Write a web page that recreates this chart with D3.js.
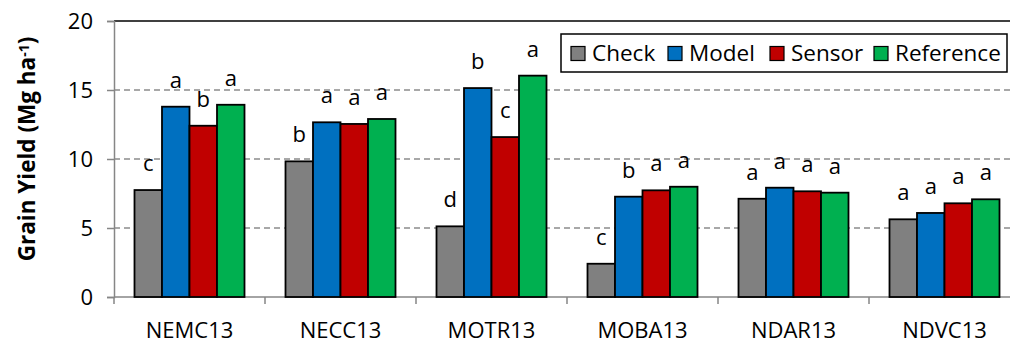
<!DOCTYPE html>
<html>
<head>
<meta charset="utf-8">
<script src="https://cdn.jsdelivr.net/npm/d3@7"></script>
<style>
  body { margin: 0; background: #fff; }
  text { font-family: "Open Sans", sans-serif; fill: #000; }
</style>
</head>
<body>
<svg id="chart" width="1010" height="343"></svg>
<script>
const sites = ['NEMC13', 'NECC13', 'MOTR13', 'MOBA13', 'NDAR13', 'NDVC13'];
const series = ['Check', 'Model', 'Sensor', 'Reference'];
const check = [7.75, 9.83, 5.12, 2.41, 7.12, 5.63];
const model = [13.79, 12.66, 15.14, 7.27, 7.92, 6.09];
const sensor = [12.41, 12.54, 11.59, 7.73, 7.66, 6.79];
const reference = [13.93, 12.9, 16.04, 7.99, 7.56, 7.08];
const checkLetters = ['c', 'b', 'd', 'c', 'a', 'a'];
const modelLetters = ['a', 'a', 'b', 'b', 'a', 'a'];
const sensorLetters = ['b', 'a', 'c', 'a', 'a', 'a'];
const referenceLetters = ['a', 'a', 'a', 'a', 'a', 'a'];
const yTicks = [0, 5, 10, 15, 20];

const colors = { 'Check': '#808080', 'Model': '#0070C0', 'Sensor': '#C00000', 'Reference': '#00B050' };

const svg = d3.select('#chart');

let margins = { 'left': 114, 'top': 21, 'bottom': 46, 'right': -10 };
let chartWidth = 906;
let chartHeight = svg.attr('height') - margins.top - margins.bottom;

// build rows from the arrays
const values = { 'Check': check, 'Model': model, 'Sensor': sensor, 'Reference': reference };
const letters = { 'Check': checkLetters, 'Model': modelLetters, 'Sensor': sensorLetters, 'Reference': referenceLetters };
const rows = [];
sites.forEach((s, i) => {
  series.forEach(k => rows.push({ site: s, key: k, value: values[k][i], letter: letters[k][i] }));
});

const x0 = d3.scaleBand().domain(sites).range([0, chartWidth]);
const x1 = d3.scaleBand().domain(series).range([20.5, 130.5]);
const y = d3.scaleLinear().domain([0, 20]).range([chartHeight, 0]);

let chartArea = svg.append('g').attr('transform', `translate(${margins.left},${margins.top})`);

// gridlines
chartArea.append('g')
  .selectAll('line')
  .data(yTicks.filter(t => t > 0 && t < 20))
  .join('line')
  .attr('x1', 0).attr('x2', chartWidth)
  .attr('y1', d => y(d)).attr('y2', d => y(d))
  .style('stroke', '#8c8c8c')
  .style('stroke-width', 1.5)
  .style('stroke-dasharray', '6,4');

// top line at 20
chartArea.append('line')
  .attr('x1', 0).attr('x2', chartWidth)
  .attr('y1', y(20)).attr('y2', y(20))
  .style('stroke', '#000')
  .style('stroke-width', 1.5);

// y axis
let leftAxis = d3.axisLeft(y).tickValues(yTicks).tickSize(7).tickPadding(14);
let yAxisG = chartArea.append('g').call(leftAxis);
yAxisG.select('.domain').style('stroke', '#868686').style('stroke-width', 1.5);
yAxisG.selectAll('.tick line').style('stroke', '#868686').style('stroke-width', 1.5);
yAxisG.selectAll('.tick text')
  .style('font-family', '"Open Sans", sans-serif')
  .style('font-size', '22px')
  .attr('dy', '0.35em');

// x axis: baseline with ticks between categories
chartArea.append('line')
  .attr('x1', 0).attr('x2', chartWidth)
  .attr('y1', y(0)).attr('y2', y(0))
  .style('stroke', '#868686')
  .style('stroke-width', 1.5);
chartArea.append('g')
  .selectAll('line')
  .data(sites)
  .join('line')
  .attr('x1', d => x0(d)).attr('x2', d => x0(d))
  .attr('y1', y(0)).attr('y2', y(0) + 7)
  .style('stroke', '#868686')
  .style('stroke-width', 1.5);
chartArea.append('g')
  .selectAll('text')
  .data(sites)
  .join('text')
  .attr('x', d => x0(d) + x0.bandwidth() / 2)
  .attr('y', y(0) + 41)
  .attr('text-anchor', 'middle')
  .style('font-size', '22px')
  .text(d => d);

// bars
chartArea.append('g')
  .selectAll('rect')
  .data(rows)
  .join('rect')
  .attr('x', d => x0(d.site) + x1(d.key))
  .attr('y', d => y(d.value))
  .attr('width', x1.bandwidth())
  .attr('height', d => y(0) - y(d.value))
  .style('fill', d => colors[d.key])
  .style('stroke', '#000')
  .style('stroke-width', 1.8);

// significance letters
chartArea.append('g')
  .selectAll('text')
  .data(rows)
  .join('text')
  .attr('x', d => x0(d.site) + x1(d.key) + x1.bandwidth() / 2)
  .attr('y', d => y(d.value) - 19)
  .attr('text-anchor', 'middle')
  .style('font-size', '22px')
  .text(d => d.letter);

// y label
const yLabel = svg.append('text')
  .attr('transform', 'translate(35,149) rotate(-90)')
  .attr('text-anchor', 'middle')
  .style('font-size', '22.5px')
  .style('font-weight', 'bold');
yLabel.append('tspan').text('Grain Yield (Mg ha');
yLabel.append('tspan').text('-1').attr('baseline-shift', '40%').style('font-size', '14px');
yLabel.append('tspan').text(')');

// legend
const legend = svg.append('g');
legend.append('rect')
  .attr('x', 561).attr('y', 34)
  .attr('width', 446).attr('height', 38)
  .style('fill', '#fff')
  .style('stroke', '#000')
  .style('stroke-width', 1.5);
const legendX = [571, 668, 770, 874];
series.forEach((k, i) => {
  legend.append('rect')
    .attr('x', legendX[i]).attr('y', 46.5)
    .attr('width', 14).attr('height', 14)
    .style('fill', colors[k])
    .style('stroke', '#000')
    .style('stroke-width', 1.2);
  legend.append('text')
    .attr('x', legendX[i] + 21)
    .attr('y', 61)
    .style('font-size', '22.5px')
    .text(k);
});
</script>
</body>
</html>
